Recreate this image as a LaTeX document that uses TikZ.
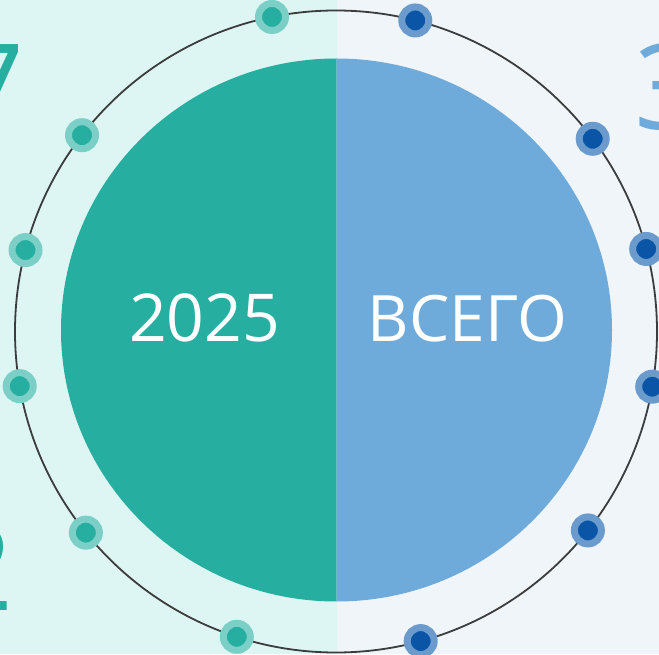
\documentclass[tikz,border=0pt]{standalone}
\usepackage{fontspec}
\setmainfont{Open Sans}
\definecolor{bgteal}{HTML}{DDF6F3}
\definecolor{bgblue}{HTML}{EFF5F9}
\definecolor{mainteal}{HTML}{26AEA0}
\definecolor{liteteal}{HTML}{7BCFC6}
\definecolor{mainblue}{HTML}{6EAADA}
\definecolor{darkblue}{HTML}{0A55A5}
\definecolor{liteblue}{HTML}{6A9BCC}
\definecolor{ringgrey}{HTML}{3C3C3C}

\begin{document}
\begin{tikzpicture}[x=1pt,y=1pt,
    tdot/.style={circle,minimum size=27pt,inner sep=0pt,line width=7pt,fill=mainteal,draw=liteteal},
    bdot/.style={circle,minimum size=27pt,inner sep=0pt,line width=7pt,fill=darkblue,draw=liteblue},
    bignum/.style={inner sep=0pt,font=\fontsize{119}{119}\selectfont},
    label/.style={inner sep=0pt,text=white}]
\useasboundingbox (0,0) rectangle (659,654);
\clip (0,0) rectangle (659,654);
\fill[bgteal] (0,0) rectangle (337,654);
\fill[bgblue] (337,0) rectangle (659,654);
\node[bignum,text=mainteal,anchor=base east] (seven) at (25,524) {7};
\node[bignum,text=mainteal,anchor=base east] (two) at (14,44) {2};
\node[bignum,text=mainblue,anchor=base west] (three) at (634,524) {3};
\node[circle,draw=ringgrey,line width=1.8pt,minimum size=642pt,inner sep=0pt,outer sep=0pt] (ring) at (336,322.5) {};
\fill[mainteal] (336.5,595.5) arc[start angle=90,end angle=270,x radius=275.5,y radius=271.5] -- cycle;
\fill[mainblue] (336.5,595.5) arc[start angle=90,end angle=-90,x radius=275.5,y radius=271.5] -- cycle;
\foreach \a [count=\i] in {101.5,142.3,165.3,189.8,218.8,252}
  \path (ring.center) ++(\a:321) node[tdot] (t\i) {};
\foreach \a [count=\i] in {75.7,36.9,14.9,-9.9,-38.3,-74.7}
  \path (ring.center) ++(\a:321) node[bdot] (b\i) {};
\node[label,anchor=base,font=\fontsize{66}{66}\selectfont] (year) at (204.5,312) {2025};
\node[label,anchor=base,font=\fontsize{64}{64}\selectfont] (total) at (467.5,312) {ВСЕГО};
\end{tikzpicture}
\end{document}
